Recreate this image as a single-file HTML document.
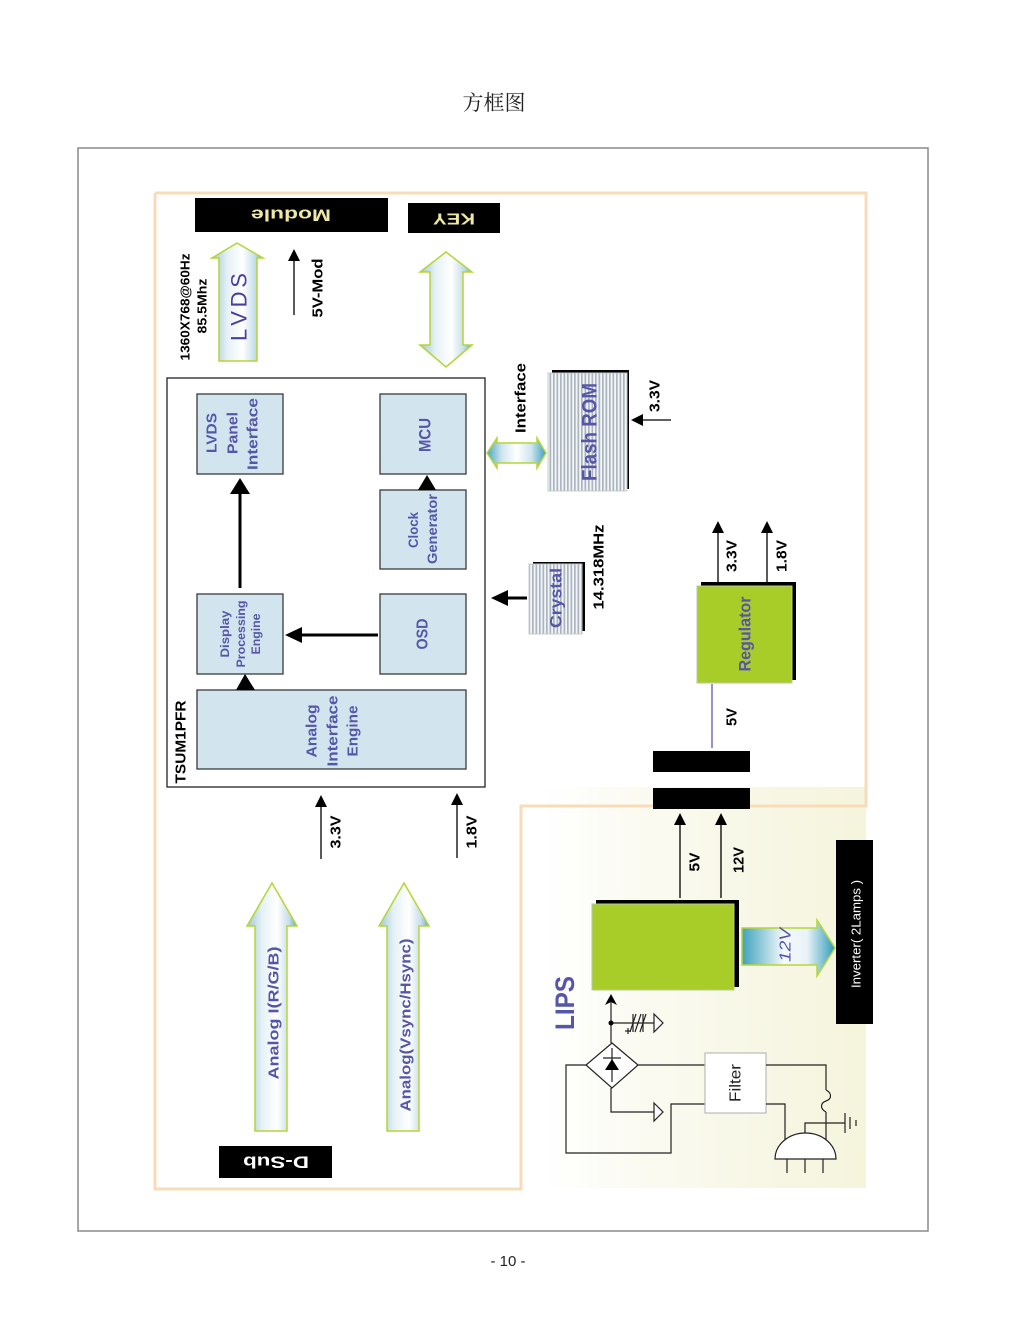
<!DOCTYPE html>
<html><head><meta charset="utf-8"><style>
html,body{margin:0;padding:0;background:#fff;}
svg{display:block;}
text{font-family:"Liberation Sans","Noto Sans CJK SC",sans-serif;}
</style></head><body>
<svg width="1015" height="1322" viewBox="0 0 1015 1322" xmlns="http://www.w3.org/2000/svg">
<defs>
<linearGradient id="gv" x1="0" y1="0" x2="1" y2="0">
<stop offset="0" stop-color="#9cc8da"/><stop offset="0.3" stop-color="#e6f1f5"/><stop offset="0.6" stop-color="#ffffff"/><stop offset="0.85" stop-color="#c3dde8"/><stop offset="1" stop-color="#56a9c4"/>
</linearGradient>
<linearGradient id="gh" x1="0" y1="0" x2="1" y2="0">
<stop offset="0" stop-color="#4aa6c0"/><stop offset="0.25" stop-color="#cfe5ee"/><stop offset="0.5" stop-color="#ffffff"/><stop offset="0.75" stop-color="#cfe5ee"/><stop offset="1" stop-color="#3aa0bc"/>
</linearGradient>
<linearGradient id="g12" x1="0" y1="0" x2="1" y2="0">
<stop offset="0" stop-color="#3fa2bd"/><stop offset="0.45" stop-color="#f4f9fb"/><stop offset="0.7" stop-color="#e8f3f7"/><stop offset="1" stop-color="#2f9bb8"/>
</linearGradient>
<linearGradient id="gy" x1="0" y1="0" x2="1" y2="0">
<stop offset="0" stop-color="#ffffff"/><stop offset="0.35" stop-color="#fafaf0"/><stop offset="1" stop-color="#f5f4dc"/>
</linearGradient>
<pattern id="stripes" x="0" y="0" width="3.5" height="10" patternUnits="userSpaceOnUse">
<rect width="3.5" height="10" fill="#f2f4f6"/><rect width="1.7" height="10" fill="#aab5c0"/>
</pattern>
</defs>

<text x="494" y="110" font-size="21" text-anchor="middle" fill="#222" style="font-family:'Noto Serif CJK SC','Noto Sans CJK SC',serif">方框图</text>

<rect x="78" y="148" width="850" height="1083" fill="none" stroke="#8a8a8a" stroke-width="1.5"/>

<rect x="540" y="787" width="326" height="401" fill="url(#gy)"/>

<polyline points="155,193 866,193 866,806 521,806 521,1189 155,1189 155,193" fill="none" stroke="#f8dcb8" stroke-width="3"/>

<rect x="195" y="198" width="193" height="34" fill="#000"/>
<text transform="translate(291,215) rotate(180)" text-anchor="middle" dominant-baseline="central" font-size="17" font-weight="bold" fill="#efe7a6" textLength="80" lengthAdjust="spacingAndGlyphs">Module</text>
<rect x="408" y="203" width="92" height="30" fill="#000"/>
<text transform="translate(454,218) rotate(180)" text-anchor="middle" dominant-baseline="central" font-size="16" font-weight="bold" fill="#efe7a6" textLength="42" lengthAdjust="spacingAndGlyphs">KEY</text>

<polygon points="237,243 263,258 257,258 257,361 219,361 219,258 212,258" fill="url(#gv)" stroke="#b6d634" stroke-width="1.5"/>
<text transform="translate(239,307) rotate(-90)" text-anchor="middle" dominant-baseline="central" font-size="22" fill="#4b3d9e" textLength="68" lengthAdjust="spacing">L V D S</text>
<text transform="translate(185,307) rotate(-90)" text-anchor="middle" dominant-baseline="central" font-size="13" font-weight="bold" fill="#000" textLength="107" lengthAdjust="spacingAndGlyphs">1360X768@60Hz</text>
<text transform="translate(202,306) rotate(-90)" text-anchor="middle" dominant-baseline="central" font-size="13" font-weight="bold" fill="#000" textLength="55" lengthAdjust="spacingAndGlyphs">85.5Mhz</text>

<line x1="294" y1="315" x2="294" y2="258" stroke="#000" stroke-width="1.3"/>
<polygon points="294,249 288,261 300,261" fill="#000"/>
<text transform="translate(318,288) rotate(-90)" text-anchor="middle" dominant-baseline="central" font-size="15" font-weight="bold" fill="#000" textLength="59" lengthAdjust="spacingAndGlyphs">5V-Mod</text>

<polygon points="446,252 472,272 463,272 463,345 472,345 446,367 420,345 430,345 430,272 420,272" fill="url(#gv)" stroke="#b6d634" stroke-width="1.5"/>

<rect x="167" y="378" width="318" height="409" fill="#fff" stroke="#222" stroke-width="1.3"/>
<text transform="translate(181,742) rotate(-90)" text-anchor="middle" dominant-baseline="central" font-size="15" font-weight="bold" fill="#000" textLength="83" lengthAdjust="spacingAndGlyphs">TSUM1PFR</text>

<g fill="#d2e4ee" stroke="#3a3a3a" stroke-width="1.3">
<rect x="197" y="394" width="86" height="80"/>
<rect x="380" y="394" width="86" height="80"/>
<rect x="380" y="490" width="86" height="79"/>
<rect x="197" y="594" width="86" height="80"/>
<rect x="380" y="594" width="86" height="80"/>
<rect x="197" y="690" width="269" height="79"/>
</g>

<g font-weight="bold" fill="#5656a8" text-anchor="middle" dominant-baseline="central">
<text transform="translate(212,433) rotate(-90)" font-size="15" textLength="40" lengthAdjust="spacingAndGlyphs">LVDS</text>
<text transform="translate(233,433) rotate(-90)" font-size="15" textLength="42" lengthAdjust="spacingAndGlyphs">Panel</text>
<text transform="translate(253,434) rotate(-90)" font-size="15" textLength="72" lengthAdjust="spacingAndGlyphs">Interface</text>
<text transform="translate(425,435) rotate(-90)" font-size="17" textLength="34" lengthAdjust="spacingAndGlyphs">MCU</text>
<text transform="translate(413,530) rotate(-90)" font-size="14" textLength="36" lengthAdjust="spacingAndGlyphs">Clock</text>
<text transform="translate(432,529) rotate(-90)" font-size="14" textLength="70" lengthAdjust="spacingAndGlyphs">Generator</text>
<text transform="translate(225,634) rotate(-90)" font-size="12" textLength="47" lengthAdjust="spacingAndGlyphs">Display</text>
<text transform="translate(241,634) rotate(-90)" font-size="12" textLength="67" lengthAdjust="spacingAndGlyphs">Processing</text>
<text transform="translate(256,634) rotate(-90)" font-size="12" textLength="41" lengthAdjust="spacingAndGlyphs">Engine</text>
<text transform="translate(423,634) rotate(-90)" font-size="16" textLength="31" lengthAdjust="spacingAndGlyphs">OSD</text>
<text transform="translate(312,731) rotate(-90)" font-size="15" textLength="53" lengthAdjust="spacingAndGlyphs">Analog</text>
<text transform="translate(333,731) rotate(-90)" font-size="15" textLength="71" lengthAdjust="spacingAndGlyphs">Interface</text>
<text transform="translate(353,731) rotate(-90)" font-size="15" textLength="51" lengthAdjust="spacingAndGlyphs">Engine</text>
</g>

<line x1="240" y1="588" x2="240" y2="490" stroke="#000" stroke-width="3"/>
<polygon points="240,478 230,494 250,494" fill="#000"/>
<line x1="378" y1="635" x2="300" y2="635" stroke="#000" stroke-width="3"/>
<polygon points="285,635 302,627 302,643" fill="#000"/>
<polygon points="245,674 236,690 255,690" fill="#000"/>
<polygon points="427,475 418,490 436,490" fill="#000"/>

<polygon points="487,453 497,438 497,443 537,443 537,438 546,453 537,468 537,463 497,463 497,468" fill="url(#gh)" stroke="#b6d634" stroke-width="1.5"/>
<text transform="translate(521,398) rotate(-90)" text-anchor="middle" dominant-baseline="central" font-size="15" font-weight="bold" fill="#000" textLength="70" lengthAdjust="spacingAndGlyphs">Interface</text>

<rect x="552" y="370" width="77" height="119" fill="#000"/>
<rect x="548" y="373" width="79" height="118" fill="url(#stripes)" stroke="#c8ccd0" stroke-width="1"/>
<text transform="translate(590,432) rotate(-90)" text-anchor="middle" dominant-baseline="central" font-size="21" font-weight="bold" fill="#5656a8" textLength="98" lengthAdjust="spacingAndGlyphs">Flash ROM</text>
<line x1="671" y1="420" x2="640" y2="420" stroke="#000" stroke-width="1.3"/>
<polygon points="631,420 643,414 643,426" fill="#000"/>
<text transform="translate(655,396) rotate(-90)" text-anchor="middle" dominant-baseline="central" font-size="15" font-weight="bold" fill="#000" textLength="32" lengthAdjust="spacingAndGlyphs">3.3V</text>

<rect x="533" y="562" width="52" height="69" fill="#000"/>
<rect x="529" y="564" width="53" height="70" fill="url(#stripes)" stroke="#c8ccd0" stroke-width="1"/>
<text transform="translate(556,598) rotate(-90)" text-anchor="middle" dominant-baseline="central" font-size="17" font-weight="bold" fill="#5656a8" textLength="60" lengthAdjust="spacingAndGlyphs">Crystal</text>
<line x1="527" y1="598" x2="505" y2="598" stroke="#000" stroke-width="3"/>
<polygon points="491,598 508,590 508,606" fill="#000"/>
<text transform="translate(599,567) rotate(-90)" text-anchor="middle" dominant-baseline="central" font-size="15" font-weight="bold" fill="#000" textLength="85" lengthAdjust="spacingAndGlyphs">14.318MHz</text>

<rect x="701" y="582" width="95" height="98" fill="#000"/>
<rect x="697" y="586" width="95" height="97" fill="#a8cd29" stroke="#b9c8a0" stroke-width="1"/>
<text transform="translate(745,634) rotate(-90)" text-anchor="middle" dominant-baseline="central" font-size="17" font-weight="bold" fill="#5656a8" textLength="75" lengthAdjust="spacingAndGlyphs">Regulator</text>
<line x1="718" y1="582" x2="718" y2="530" stroke="#000" stroke-width="1.3"/>
<polygon points="718,521 712,533 724,533" fill="#000"/>
<line x1="767" y1="582" x2="767" y2="530" stroke="#000" stroke-width="1.3"/>
<polygon points="767,521 761,533 773,533" fill="#000"/>
<text transform="translate(732,556) rotate(-90)" text-anchor="middle" dominant-baseline="central" font-size="15" font-weight="bold" fill="#000" textLength="32" lengthAdjust="spacingAndGlyphs">3.3V</text>
<text transform="translate(782,556) rotate(-90)" text-anchor="middle" dominant-baseline="central" font-size="15" font-weight="bold" fill="#000" textLength="32" lengthAdjust="spacingAndGlyphs">1.8V</text>
<line x1="712" y1="684" x2="712" y2="748" stroke="#6a4fb0" stroke-width="1.3"/>
<text transform="translate(732,717) rotate(-90)" text-anchor="middle" dominant-baseline="central" font-size="15" font-weight="bold" fill="#000" textLength="18" lengthAdjust="spacingAndGlyphs">5V</text>

<rect x="653" y="751" width="97" height="21" fill="#000"/>
<rect x="653" y="788" width="97" height="21" fill="#000"/>

<line x1="680" y1="898" x2="680" y2="822" stroke="#000" stroke-width="1.3"/>
<polygon points="680,813 674,825 686,825" fill="#000"/>
<line x1="721" y1="898" x2="721" y2="822" stroke="#000" stroke-width="1.3"/>
<polygon points="721,813 715,825 727,825" fill="#000"/>
<text transform="translate(695,862) rotate(-90)" text-anchor="middle" dominant-baseline="central" font-size="15" font-weight="bold" fill="#000" textLength="19" lengthAdjust="spacingAndGlyphs">5V</text>
<text transform="translate(739,860) rotate(-90)" text-anchor="middle" dominant-baseline="central" font-size="15" font-weight="bold" fill="#000" textLength="26" lengthAdjust="spacingAndGlyphs">12V</text>

<rect x="596" y="900" width="143" height="87" fill="#000"/>
<rect x="592" y="904" width="142" height="86" fill="#a8cd29" stroke="#b9c8a0" stroke-width="1"/>
<text transform="translate(565,1003) rotate(-90)" text-anchor="middle" dominant-baseline="central" font-size="27" font-weight="bold" fill="#5656a8" textLength="54" lengthAdjust="spacingAndGlyphs">LIPS</text>

<polygon points="742,928 817,928 817,920 835,948 817,976 817,965 742,965" fill="url(#g12)" stroke="#b6d634" stroke-width="1.5"/>
<text transform="translate(786,945) rotate(-90)" text-anchor="middle" dominant-baseline="central" font-size="16" font-style="italic" fill="#5656a8" textLength="34" lengthAdjust="spacingAndGlyphs">12V</text>

<rect x="836" y="840" width="37" height="184" fill="#000"/>
<text transform="translate(856,934) rotate(-90)" text-anchor="middle" dominant-baseline="central" font-size="13" fill="#fff" textLength="108" lengthAdjust="spacingAndGlyphs">Inverter( 2Lamps )</text>

<g stroke="#222" stroke-width="1.2" fill="none">
<line x1="611" y1="1043" x2="611" y2="1000"/>
<line x1="611" y1="1023" x2="654" y2="1023"/>
<polygon points="654,1014 663,1023 654,1032" fill="#fff"/>
<line x1="633" y1="1014" x2="633" y2="1032"/>
<line x1="643" y1="1014" x2="643" y2="1032"/>
<line x1="630" y1="1032" x2="636" y2="1014"/>
<line x1="635" y1="1032" x2="641" y2="1014"/>
<line x1="640" y1="1032" x2="646" y2="1014"/>
<line x1="625" y1="1031" x2="631" y2="1031"/>
<line x1="628" y1="1028" x2="628" y2="1034"/>
<polygon points="612,1043 638,1065 612,1088 586,1065" fill="#fff"/>
<line x1="612" y1="1048" x2="612" y2="1082"/>
<line x1="603" y1="1058" x2="621" y2="1058"/>
<polyline points="586,1065 566,1065 566,1153 671,1153 671,1104 705,1104"/>
<line x1="638" y1="1065" x2="705" y2="1065"/>
<polyline points="611,1088 611,1112 654,1112"/>
<polygon points="654,1103 663,1112 654,1121" fill="#fff"/>
<rect x="705" y="1053" width="61" height="60" fill="#fff" stroke="#bbb"/>
<polyline points="766,1065 826,1065 826,1090"/>
<path d="M826,1090 C832,1093 832,1099 826,1101 C820,1103 820,1109 826,1112"/>
<line x1="826" y1="1112" x2="826" y2="1152"/>
<polyline points="766,1104 785,1104 785,1140"/>
<path d="M775,1159 A30.5,26 0 0 1 836,1159 Z" fill="#fff"/>
<line x1="787" y1="1159" x2="787" y2="1173"/>
<line x1="805" y1="1159" x2="805" y2="1173"/>
<line x1="823" y1="1159" x2="823" y2="1173"/>
<polyline points="805,1133 805,1123 845,1123"/>
<line x1="845" y1="1113" x2="845" y2="1133"/>
<line x1="850" y1="1117" x2="850" y2="1129"/>
<line x1="856" y1="1120" x2="856" y2="1126"/>
</g>
<polygon points="611,994 605,1005 611,1002 617,1005" fill="#000"/>
<circle cx="611" cy="1023" r="2.5" fill="#000"/>
<polygon points="612,1059 605,1070 619,1070" fill="#000"/>
<text transform="translate(736,1083) rotate(-90)" text-anchor="middle" dominant-baseline="central" font-size="16" fill="#222" textLength="38" lengthAdjust="spacingAndGlyphs">Filter</text>

<line x1="321" y1="859" x2="321" y2="804" stroke="#000" stroke-width="1.3"/>
<polygon points="321,795 315,807 327,807" fill="#000"/>
<line x1="457" y1="858" x2="457" y2="802" stroke="#000" stroke-width="1.3"/>
<polygon points="457,793 451,805 463,805" fill="#000"/>
<text transform="translate(336,832) rotate(-90)" text-anchor="middle" dominant-baseline="central" font-size="15" font-weight="bold" fill="#000" textLength="33" lengthAdjust="spacingAndGlyphs">3.3V</text>
<text transform="translate(472,832) rotate(-90)" text-anchor="middle" dominant-baseline="central" font-size="15" font-weight="bold" fill="#000" textLength="33" lengthAdjust="spacingAndGlyphs">1.8V</text>

<polygon points="272,883 297,926 287,926 287,1131 255,1131 255,926 247,926" fill="url(#gv)" stroke="#b6d634" stroke-width="1.5"/>
<text transform="translate(274,1013) rotate(-90)" text-anchor="middle" dominant-baseline="central" font-size="15" font-weight="bold" fill="#5656a8" textLength="133" lengthAdjust="spacingAndGlyphs">Analog I(R/G/B)</text>
<polygon points="404,883 429,926 419,926 419,1131 387,1131 387,926 379,926" fill="url(#gv)" stroke="#b6d634" stroke-width="1.5"/>
<text transform="translate(406,1025) rotate(-90)" text-anchor="middle" dominant-baseline="central" font-size="15" font-weight="bold" fill="#5656a8" textLength="173" lengthAdjust="spacingAndGlyphs">Analog(Vsync/Hsync)</text>

<rect x="219" y="1146" width="113" height="32" fill="#000"/>
<text transform="translate(276,1162) rotate(180)" text-anchor="middle" dominant-baseline="central" font-size="17" font-weight="bold" fill="#fff" textLength="66" lengthAdjust="spacingAndGlyphs">D-Sub</text>

<text x="508" y="1266" text-anchor="middle" font-size="15" fill="#222">- 10 -</text>
</svg>
</body></html>
